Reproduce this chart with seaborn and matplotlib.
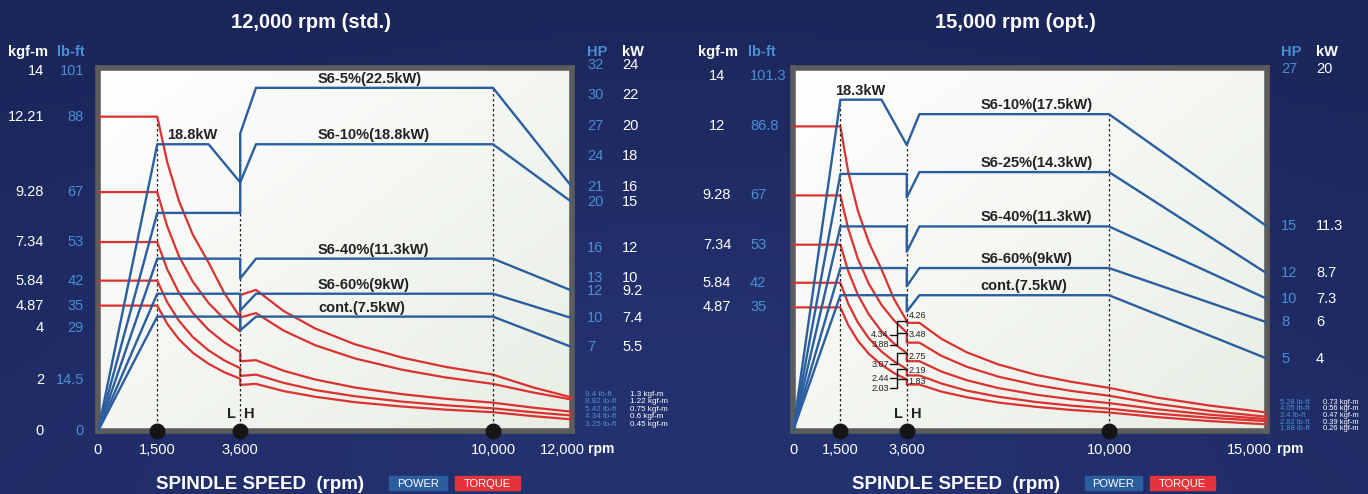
import numpy as np
import pandas as pd
import matplotlib
matplotlib.use("Agg")
import matplotlib.pyplot as plt
import matplotlib.transforms as mtransforms
from matplotlib.patches import Rectangle
import seaborn as sns

W, H = 1368, 494

BLUE = "#2b5e9e"
RED = "#d93230"
LIGHT = "#4b8fd2"
INK = "#222222"

# ---------------- 12,000 rpm (std.) ----------------
std_names = ["S6-5%(22.5kW)", "S6-10%(18.8kW)", "S6-40%(11.3kW)", "S6-60%(9kW)", "cont.(7.5kW)"]
std_power_rpm = [
    [0, 1500, 2800, 3600, 3600, 4000, 10000, 12000],
    [0, 1500, 3600, 3600, 4000, 10000, 12000],
    [0, 1500, 3600, 3600, 4000, 10000, 12000],
    [0, 1500, 3600, 3600, 4000, 10000, 12000],
    [0, 1500, 3600, 3600, 4000, 10000, 12000],
]
std_power_kw = [
    [0, 18.8, 18.8, 16.3, 19.5, 22.5, 22.5, 16.0],
    [0, 14.3, 14.3, 16.3, 18.8, 18.8, 15.0],
    [0, 11.3, 11.3, 10.0, 11.3, 11.3, 9.2],
    [0, 9.0, 9.0, 7.9, 9.0, 9.0, 7.4],
    [0, 7.5, 7.5, 6.6, 7.5, 7.5, 5.5],
]
std_torque_rpm = [0, 1500, 1750, 2050, 2400, 2800, 3200, 3600, 3600, 4000,
                  4700, 5500, 6500, 7700, 8800, 10000, 11000, 12000]
std_torque_kgfm = [
    [12.21, 12.21, 10.46, 8.93, 7.63, 6.54, 5.35, 4.41, 5.28, 5.48, 4.66, 3.98, 3.37, 2.85, 2.49, 2.19, 1.70, 1.30],
    [9.28, 9.28, 7.96, 6.79, 5.80, 4.97, 4.35, 3.87, 4.41, 4.58, 3.90, 3.33, 2.82, 2.38, 2.08, 1.83, 1.50, 1.22],
    [7.34, 7.34, 6.29, 5.37, 4.59, 3.93, 3.44, 3.06, 2.71, 2.75, 2.34, 2.00, 1.69, 1.43, 1.25, 1.10, 0.91, 0.75],
    [5.84, 5.84, 5.01, 4.28, 3.65, 3.13, 2.74, 2.44, 2.14, 2.19, 1.87, 1.59, 1.35, 1.14, 1.00, 0.88, 0.73, 0.60],
    [4.87, 4.87, 4.17, 3.56, 3.04, 2.61, 2.28, 2.03, 1.79, 1.83, 1.55, 1.33, 1.12, 0.95, 0.83, 0.73, 0.58, 0.45],
]
std_kgfm_ticks = [14, 12.21, 9.28, 7.34, 5.84, 4.87, 4, 2, 0]
std_lbft_ticks = ["101", "88", "67", "53", "42", "35", "29", "14.5", "0"]
std_kw_ticks = [24, 22, 20, 18, 16, 15, 12, 10, 9.2, 7.4, 5.5]
std_hp_ticks = ["32", "30", "27", "24", "21", "20", "16", "13", "12", "10", "7"]
std_end_lbft = ["9.4 lb-ft", "8.82 lb-ft", "5.42 lb-ft", "4.34 lb-ft", "3.25 lb-ft"]
std_end_kgfm = ["1.3 kgf-m", "1.22 kgf-m", "0.75 kgf-m", "0.6 kgf-m", "0.45 kgf-m"]

# ---------------- 15,000 rpm (opt.) ----------------
opt_names = ["S6-10%(17.5kW)", "S6-25%(14.3kW)", "S6-40%(11.3kW)", "S6-60%(9kW)", "cont.(7.5kW)"]
opt_power_rpm = [
    [0, 1500, 2800, 3600, 4000, 10000, 15000],
    [0, 1500, 3600, 3600, 4000, 10000, 15000],
    [0, 1500, 3600, 3600, 4000, 10000, 15000],
    [0, 1500, 3600, 3600, 4000, 10000, 15000],
    [0, 1500, 3600, 3600, 4000, 10000, 15000],
]
opt_power_kw = [
    [0, 18.3, 18.3, 15.8, 17.5, 17.5, 11.3],
    [0, 14.2, 14.2, 12.9, 14.3, 14.3, 8.7],
    [0, 11.3, 11.3, 9.9, 11.3, 11.3, 7.3],
    [0, 9.0, 9.0, 8.0, 9.0, 9.0, 6.0],
    [0, 7.5, 7.5, 6.6, 7.5, 7.5, 4.0],
]
opt_torque_rpm = [0, 1500, 1750, 2050, 2400, 2800, 3200, 3600, 3600, 4000,
                  4700, 5500, 6500, 7700, 8800, 10000, 11500, 13200, 15000]
opt_torque_kgfm = [
    [12.0, 12.0, 10.19, 8.69, 7.43, 6.37, 5.19, 4.34, 4.26, 4.26, 3.63, 3.10, 2.62, 2.21, 1.94, 1.70, 1.32, 1.00, 0.73],
    [9.28, 9.28, 7.96, 6.79, 5.80, 4.97, 4.35, 3.88, 3.48, 3.48, 2.96, 2.53, 2.14, 1.81, 1.58, 1.39, 1.07, 0.79, 0.56],
    [7.34, 7.34, 6.29, 5.37, 4.59, 3.93, 3.44, 3.07, 2.75, 2.75, 2.34, 2.00, 1.69, 1.43, 1.25, 1.10, 0.86, 0.64, 0.47],
    [5.84, 5.84, 5.01, 4.28, 3.65, 3.13, 2.74, 2.44, 2.19, 2.19, 1.87, 1.59, 1.35, 1.14, 1.00, 0.88, 0.69, 0.52, 0.39],
    [4.87, 4.87, 4.17, 3.56, 3.04, 2.61, 2.28, 2.03, 1.83, 1.83, 1.55, 1.33, 1.12, 0.95, 0.83, 0.73, 0.55, 0.39, 0.26],
]
opt_step_low = [4.34, 3.88, 3.07, 2.44, 2.03]
opt_step_high = [4.26, 3.48, 2.75, 2.19, 1.83]
opt_kgfm_ticks = [14, 12, 9.28, 7.34, 5.84, 4.87]
opt_lbft_ticks = ["101.3", "86.8", "67", "53", "42", "35"]
opt_kw_ticks = [20, 11.3, 8.7, 7.3, 6, 4]
opt_hp_ticks = ["27", "15", "12", "10", "8", "5"]
opt_end_lbft = ["5.28 lb-ft", "4.05 lb-ft", "3.4 lb-ft", "2.82 lb-ft", "1.88 lb-ft"]
opt_end_kgfm = ["0.73 kgf-m", "0.56 kgf-m", "0.47 kgf-m", "0.39 kgf-m", "0.26 kgf-m"]

rpm_marks = [1500, 3600, 10000]
rpm_tick_labels = ["0", "1,500", "3,600", "10,000"]


def fx(x):
    return x / W


def fy(y):
    return 1 - y / H


def long_frame(rpms, values, col):
    rows = []
    for i, (r, v) in enumerate(zip(rpms, values)):
        for a, b in zip(r, v):
            rows.append((i, a, b))
    return pd.DataFrame(rows, columns=["curve", "rpm", col])


sns.set_theme(style="white")
plt.rcParams["font.family"] = ["Liberation Sans", "DejaVu Sans"]

fig = plt.figure(figsize=(W / 100, H / 100), dpi=100)

# dark navy page background
bg = fig.add_axes([0, 0, 1, 1], zorder=-10)
yy, xx = np.mgrid[0:1:120j, 0:1:300j]
glow = np.exp(-(((xx - 0.5) / 0.45) ** 2 + ((yy - 0.75) / 0.6) ** 2))
top = np.array([26, 37, 88]) / 255
bot = np.array([31, 43, 100]) / 255
img = top * (1 - yy[..., None]) + bot * yy[..., None] + glow[..., None] * np.array([6, 8, 14]) / 255
bg.imshow(np.clip(img, 0, 1), extent=(0, 1, 0, 1), aspect="auto")
bg.set_axis_off()

# pale plot background gradient
ii, jj = np.mgrid[0:1:100j, 0:1:100j]
t = (ii + jj) / 2
plot_bg = np.array([1, 1, 1]) * (1 - t[..., None]) + np.array([232, 238, 228]) / 255 * t[..., None]


def panel(rect, rpm_max, kgfm_max, kw_max, torque_rpm, torque_kgfm, power_rpm, power_kw):
    ax = fig.add_axes(rect)
    ax.imshow(plot_bg, extent=(0, 1, 0, 1), transform=ax.transAxes, aspect="auto", zorder=0)
    sns.lineplot(data=long_frame([torque_rpm] * len(torque_kgfm), torque_kgfm, "kgfm"),
                 x="rpm", y="kgfm", units="curve", estimator=None, sort=False,
                 color=RED, lw=1.6, ax=ax, zorder=3)
    axp = ax.twinx()
    sns.lineplot(data=long_frame(power_rpm, power_kw, "kw"),
                 x="rpm", y="kw", units="curve", estimator=None, sort=False,
                 color=BLUE, lw=1.7, ax=axp, zorder=3)
    ax.set_xlim(0, rpm_max)
    ax.set_ylim(0, kgfm_max)
    axp.set_ylim(0, kw_max)
    for a in (ax, axp):
        a.set_xlabel("")
        a.set_ylabel("")
        a.set_yticks([])
        for s in a.spines.values():
            s.set_visible(False)
    for s in ax.spines.values():
        s.set_visible(True)
        s.set_color("#5c5c5c")
        s.set_linewidth(4)
    ax.set_xticks([0] + rpm_marks, rpm_tick_labels)
    ax.tick_params(axis="x", length=0, pad=9, labelsize=10.5, labelcolor="white")
    axp.scatter(rpm_marks, np.zeros(len(rpm_marks)), s=110, color="#151515",
                zorder=10, clip_on=False)
    axp.annotate("L", xy=(3600, 0), xytext=(-4, 10), textcoords="offset pixels",
                 ha="right", va="bottom", fontsize=10.5, fontweight="bold", color=INK)
    axp.annotate("H", xy=(3600, 0), xytext=(4, 10), textcoords="offset pixels",
                 ha="left", va="bottom", fontsize=10.5, fontweight="bold", color=INK)
    return ax, axp


def side_text(ax, xpx, y, s, **kw):
    tr = mtransforms.blended_transform_factory(fig.transFigure, ax.transData)
    ax.text(fx(xpx), y, s, transform=tr, va="center", fontsize=10.5, **kw)


def dotted(ax, rpm, top_val):
    ax.plot([rpm, rpm], [0, top_val], color="#222222", lw=0.9, ls=(0, (2, 2)), zorder=2)


def power_names(axp, names, power_kw, rpm):
    for name, kw in zip(names, power_kw):
        axp.annotate(name, xy=(rpm, kw[-2]), xytext=(0, 2), textcoords="offset pixels",
                     ha="left", va="bottom", fontsize=10.5, fontweight="bold", color=INK)


def bottom_labels(cx, power_box, torque_box):
    fig.text(fx(cx), fy(484), "SPINDLE SPEED  (rpm)", ha="center", va="center",
             fontsize=13.5, fontweight="bold", color="white")
    for (x0, x1), label, col in [(power_box, "POWER", BLUE), (torque_box, "TORQUE", "#e4333a")]:
        fig.patches.append(Rectangle((fx(x0), fy(490)), fx(x1 - x0), (490 - 476) / H,
                                     transform=fig.transFigure, color=col, zorder=1))
        fig.text(fx((x0 + x1) / 2), fy(483.5), label, ha="center", va="center",
                 fontsize=8, color="white")


def end_notes(xl, xk, ys, lbft, kgfm, size):
    for y, a, b in zip(ys, lbft, kgfm):
        fig.text(fx(xl), fy(y), a, ha="left", va="center", fontsize=size, color=LIGHT)
        fig.text(fx(xk), fy(y), b, ha="left", va="center", fontsize=size, color="white")


# ================= left panel =================
axL, axLp = panel([fx(98), fy(431), fx(572 - 98), (431 - 68) / H], 12000, 14.1, 23.8,
                  std_torque_rpm, std_torque_kgfm, std_power_rpm, std_power_kw)
dotted(axL, 1500, std_torque_kgfm[0][1])
dotted(axLp, 3600, std_power_kw[0][4])
dotted(axLp, 10000, std_power_kw[0][-2])
power_names(axLp, std_names, std_power_kw, 5570)
axLp.annotate(f"{std_power_kw[0][1]:g}kW", xy=(1750, std_power_kw[0][1]), xytext=(0, 2),
              textcoords="offset pixels", ha="left", va="bottom", fontsize=10.5,
              fontweight="bold", color=INK)
axL.annotate("12,000", xy=(12000, 0), xytext=(13, -19), textcoords="offset pixels",
             ha="right", va="center", fontsize=10.5, color="white", annotation_clip=False)
axL.annotate("rpm", xy=(12000, 0), xytext=(16, -18), textcoords="offset pixels",
             ha="left", va="center", fontsize=10, fontweight="bold", color="white",
             annotation_clip=False)
for v, lb in zip(std_kgfm_ticks, std_lbft_ticks):
    side_text(axL, 44, v, f"{v:g}", ha="right", color="white")
    side_text(axL, 84, v, lb, ha="right", color=LIGHT)
for v, hp in zip(std_kw_ticks, std_hp_ticks):
    side_text(axLp, 587, v, hp, ha="left", color=LIGHT)
    side_text(axLp, 622, v, f"{v:g}", ha="left", color="white")
fig.text(fx(28), fy(52), "kgf-m", ha="center", va="center", fontsize=10.5, fontweight="bold", color="white")
fig.text(fx(71), fy(52), "lb-ft", ha="center", va="center", fontsize=10.5, fontweight="bold", color=LIGHT)
fig.text(fx(587), fy(52), "HP", ha="left", va="center", fontsize=10.5, fontweight="bold", color=LIGHT)
fig.text(fx(622), fy(52), "kW", ha="left", va="center", fontsize=10.5, fontweight="bold", color="white")
fig.text(fx(311), fy(22), "12,000 rpm (std.)", ha="center", va="center", fontsize=14.5,
         fontweight="bold", color="white")
end_notes(585, 630, [394, 401.5, 409, 416.5, 424], std_end_lbft, std_end_kgfm, 5.8)
bottom_labels(260, (389, 447), (455, 520))

# ================= right panel =================
axR, axRp = panel([fx(793), fy(431), fx(1267 - 793), (431 - 68) / H], 15000, 14.3, 20.05,
                  opt_torque_rpm, opt_torque_kgfm, opt_power_rpm, opt_power_kw)
dotted(axRp, 1500, opt_power_kw[0][1])
dotted(axRp, 3600, opt_power_kw[0][3])
dotted(axRp, 10000, opt_power_kw[0][-2])
power_names(axRp, opt_names, opt_power_kw, 5940)
axRp.annotate(f"{opt_power_kw[0][1]:g}kW", xy=(1335, opt_power_kw[0][1]), xytext=(0, 2),
              textcoords="offset pixels", ha="left", va="bottom", fontsize=10.5,
              fontweight="bold", color=INK)
axR.annotate("15,000", xy=(15000, 0), xytext=(5, -19), textcoords="offset pixels",
             ha="right", va="center", fontsize=10.5, color="white", annotation_clip=False)
axR.annotate("rpm", xy=(15000, 0), xytext=(10, -18), textcoords="offset pixels",
             ha="left", va="center", fontsize=10, fontweight="bold", color="white",
             annotation_clip=False)

# step values at the L/H change-over
drop_px = [14, 12, 11, 9, 9]
rise_px = [7, 8, 5, 5, 3]
for lo, hi, d, r in zip(opt_step_low, opt_step_high, drop_px, rise_px):
    tr = mtransforms.Affine2D() + mtransforms.ScaledTranslation(3600, lo, axR.transData)
    axR.plot([-17, -10, -10, 0], [-d, -d, 0, 0], transform=tr, color="#111111", lw=1.0,
             zorder=6, clip_on=False)
    axR.annotate(f"{lo:.2f}", xy=(3600, lo), xytext=(-18, -d), textcoords="offset pixels",
                 ha="right", va="center", fontsize=6.5, color=INK)
    axR.annotate(f"{hi:.2f}", xy=(3600, hi), xytext=(2, r), textcoords="offset pixels",
                 ha="left", va="center", fontsize=6.5, color=INK)

for v, lb in zip(opt_kgfm_ticks, opt_lbft_ticks):
    side_text(axR, 717, v, f"{v:g}", ha="center", color="white")
    side_text(axR, 750, v, lb, ha="left", color=LIGHT)
for v, hp in zip(opt_kw_ticks, opt_hp_ticks):
    side_text(axRp, 1281, v, hp, ha="left", color=LIGHT)
    side_text(axRp, 1316, v, f"{v:g}", ha="left", color="white")
fig.text(fx(718), fy(52), "kgf-m", ha="center", va="center", fontsize=10.5, fontweight="bold", color="white")
fig.text(fx(748), fy(52), "lb-ft", ha="left", va="center", fontsize=10.5, fontweight="bold", color=LIGHT)
fig.text(fx(1281), fy(52), "HP", ha="left", va="center", fontsize=10.5, fontweight="bold", color=LIGHT)
fig.text(fx(1316), fy(52), "kW", ha="left", va="center", fontsize=10.5, fontweight="bold", color="white")
fig.text(fx(1015), fy(22), "15,000 rpm (opt.)", ha="center", va="center", fontsize=14.5,
         fontweight="bold", color="white")
end_notes(1280, 1323, [402, 408.7, 415.4, 422.1, 428.8], opt_end_lbft, opt_end_kgfm, 5.4)
bottom_labels(956, (1085, 1142), (1150, 1215))

fig.savefig("out.png", dpi=100)
